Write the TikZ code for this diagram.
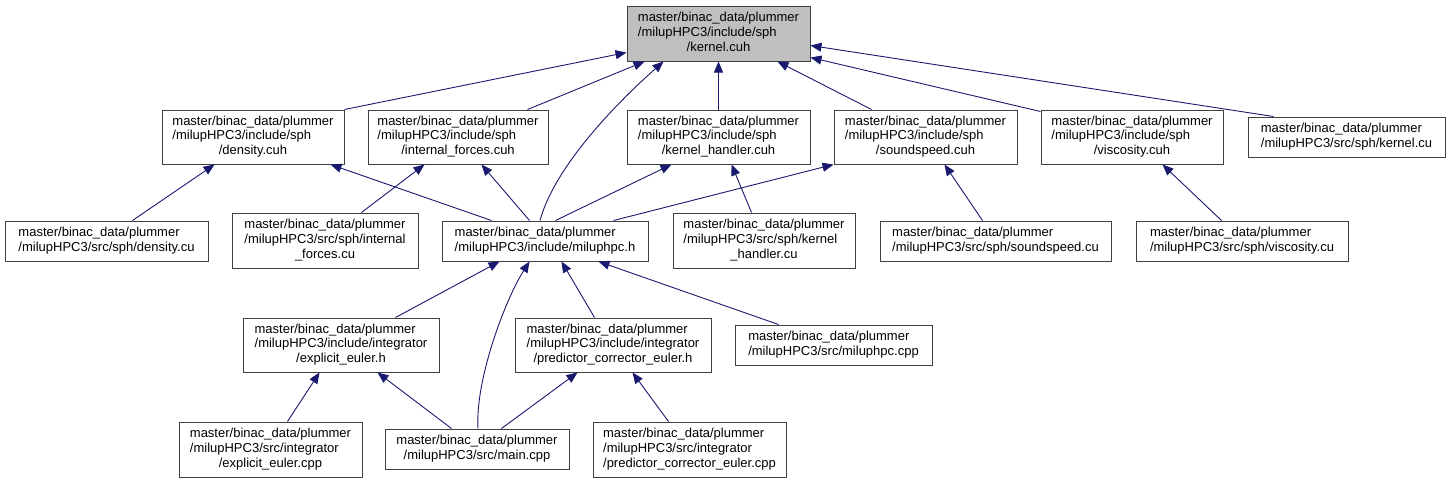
\documentclass[tikz,border=0pt]{standalone}
\usepackage{fontspec}
\setmainfont{Liberation Sans}
\usetikzlibrary{arrows.meta}
\definecolor{edgeblue}{HTML}{191970}
\definecolor{boxline}{HTML}{404040}
\definecolor{rootfill}{HTML}{BFBFBF}
\newcommand{\lbtwo}[2]{\begin{tabular}{@{}l@{}}#1\\\multicolumn{1}{@{}c@{}}{#2}\end{tabular}}
\newcommand{\lbthree}[3]{\begin{tabular}{@{}l@{}}#1\\#2\\\multicolumn{1}{@{}c@{}}{#3}\end{tabular}}
\tikzset{
  filebox/.style={draw=boxline, line width=1pt, fill=white, inner sep=0pt, align=center,
    font=\fontsize{13}{14.7}\selectfont},
  rootbox/.style={filebox, fill=rootfill},
  dep/.style={draw=edgeblue, line width=0.9pt, -{Triangle[length=11pt,width=9pt]}, edgeblue}
}
\renewcommand{\arraystretch}{1}
\begin{document}
\begin{tikzpicture}[x=1pt,y=-1pt]
\useasboundingbox (0,0) rectangle (1451,483);
% row 0
\node[rootbox, minimum width=183pt, minimum height=55pt] (root) at (718.5,33.5) {\lbthree{master/binac\_data/plummer}{/milupHPC3/include/sph}{/kernel.cuh}};
% row 1
\node[filebox, minimum width=182pt, minimum height=54pt] (dcuh) at (253,137) {\lbthree{master/binac\_data/plummer}{/milupHPC3/include/sph}{/density.cuh}};
\node[filebox, minimum width=180pt, minimum height=54pt] (ifcuh) at (458,137) {\lbthree{master/binac\_data/plummer}{/milupHPC3/include/sph}{/internal\_forces.cuh}};
\node[filebox, minimum width=183pt, minimum height=54pt] (khcuh) at (718.5,137) {\lbthree{master/binac\_data/plummer}{/milupHPC3/include/sph}{/kernel\_handler.cuh}};
\node[filebox, minimum width=183pt, minimum height=54pt] (sscuh) at (925.5,137) {\lbthree{master/binac\_data/plummer}{/milupHPC3/include/sph}{/soundspeed.cuh}};
\node[filebox, minimum width=182pt, minimum height=54pt] (vcuh) at (1132,137) {\lbthree{master/binac\_data/plummer}{/milupHPC3/include/sph}{/viscosity.cuh}};
\node[filebox, minimum width=197pt, minimum height=40pt] (kcu) at (1346.5,137) {\lbtwo{master/binac\_data/plummer}{/milupHPC3/src/sph/kernel.cu}};
% row 2
\node[filebox, minimum width=203pt, minimum height=40pt] (dcu) at (106.5,241) {\lbtwo{master/binac\_data/plummer}{/milupHPC3/src/sph/density.cu}};
\node[filebox, minimum width=186pt, minimum height=55pt] (ifcu) at (325,240.5) {\lbthree{master/binac\_data/plummer}{/milupHPC3/src/sph/internal}{\_forces.cu}};
\node[filebox, minimum width=206pt, minimum height=40pt] (mh) at (545,241) {\lbtwo{master/binac\_data/plummer}{/milupHPC3/include/miluphpc.h}};
\node[filebox, minimum width=182pt, minimum height=55pt] (khcu) at (764,240.5) {\lbthree{master/binac\_data/plummer}{/milupHPC3/src/sph/kernel}{\_handler.cu}};
\node[filebox, minimum width=231pt, minimum height=40pt] (sscu) at (995.5,241) {\lbtwo{master/binac\_data/plummer}{/milupHPC3/src/sph/soundspeed.cu}};
\node[filebox, minimum width=212pt, minimum height=40pt] (vcu) at (1242,241) {\lbtwo{master/binac\_data/plummer}{/milupHPC3/src/sph/viscosity.cu}};
% row 3
\node[filebox, minimum width=196pt, minimum height=54pt] (eeh) at (341,345) {\lbthree{master/binac\_data/plummer}{/milupHPC3/include/integrator}{/explicit\_euler.h}};
\node[filebox, minimum width=196pt, minimum height=54pt] (pceh) at (613,345) {\lbthree{master/binac\_data/plummer}{/milupHPC3/include/integrator}{/predictor\_corrector\_euler.h}};
\node[filebox, minimum width=197pt, minimum height=40pt] (mcpp) at (833.5,345) {\lbtwo{master/binac\_data/plummer}{/milupHPC3/src/miluphpc.cpp}};
% row 4
\node[filebox, minimum width=183pt, minimum height=55pt] (eecpp) at (270.5,449.5) {\lbthree{master/binac\_data/plummer}{/milupHPC3/src/integrator}{/explicit\_euler.cpp}};
\node[filebox, minimum width=184pt, minimum height=40pt] (main) at (477,449) {\lbtwo{master/binac\_data/plummer}{/milupHPC3/src/main.cpp}};
\node[filebox, minimum width=193pt, minimum height=55pt] (pcecpp) at (689.5,449.5) {\lbthree{master/binac\_data/plummer}{/milupHPC3/src/integrator}{/predictor\_corrector\_euler.cpp}};
% edges to root
\draw[dep] (dcuh.north east) -- ([yshift=9pt]root.south west);
\draw[dep] ([xshift=-21pt]ifcuh.north east) -- ([xshift=18pt]root.south west);
\draw[dep] ([xshift=-5pt]mh.north) .. controls (555,165) and (620,100) .. ([xshift=37pt]root.south west);
\draw[dep] (khcuh.north) -- (root.south);
\draw[dep] ([xshift=38pt]sscuh.north west) -- ([xshift=-33pt]root.south east);
\draw[dep] ([yshift=-2pt]vcuh.north west) -- ([yshift=4pt]root.south east);
\draw[dep] ([xshift=26pt]kcu.north west) -- ([yshift=16pt]root.south east);
% edges to row 1
\draw[dep] ([xshift=128pt]dcu.north west) -- ([xshift=53pt]dcuh.south west);
\draw[dep] ([xshift=50pt]mh.north west) -- ([xshift=-14pt]dcuh.south east);
\draw[dep] ([xshift=-57pt]ifcu.north east) -- ([xshift=57pt]ifcuh.south west);
\draw[dep] ([xshift=88pt]mh.north west) -- ([xshift=114pt]ifcuh.south west);
\draw[dep] ([xshift=114pt]mh.north west) -- ([xshift=45pt]khcuh.south west);
\draw[dep] ([xshift=79pt]khcu.north west) -- ([xshift=105pt]khcuh.south west);
\draw[dep] ([xshift=-35pt]mh.north east) -- (sscuh.south west);
\draw[dep] ([xshift=103pt]sscu.north west) -- ([xshift=111pt]sscuh.south west);
\draw[dep] ([xshift=86pt]vcu.north west) -- ([xshift=122pt]vcuh.south west);
% edges to miluphpc.h
\draw[dep] ([xshift=-44pt]eeh.north east) -- ([xshift=58pt]mh.south west);
\draw[dep] ([xshift=1pt]main.north) .. controls (475,380) and (505,300) .. ([xshift=88pt]mh.south west);
\draw[dep] ([xshift=80pt]pceh.north west) -- ([xshift=120pt]mh.south west);
\draw[dep] ([xshift=44pt]mcpp.north west) -- ([xshift=-50pt]mh.south east);
% edges to row 3
\draw[dep] ([xshift=109pt]eecpp.north west) -- ([xshift=77pt]eeh.south west);
\draw[dep] ([xshift=67pt]main.north west) -- ([xshift=-62pt]eeh.south east);
\draw[dep] ([xshift=117pt]main.north west) -- ([xshift=63pt]pceh.south west);
\draw[dep] ([xshift=76pt]pcecpp.north west) -- ([xshift=118pt]pceh.south west);
\end{tikzpicture}
\end{document}
